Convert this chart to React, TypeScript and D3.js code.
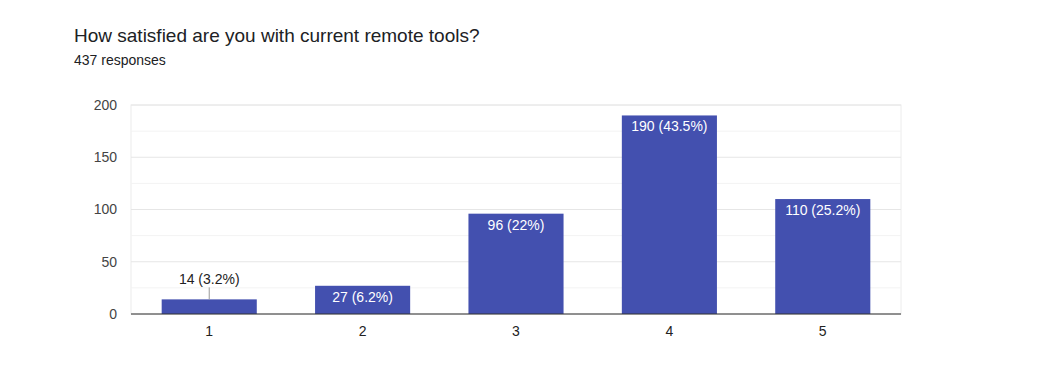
import React from 'react';
import * as d3 from 'd3';

// chart data
const categories = ['1', '2', '3', '4', '5'];
const counts = [14, 27, 96, 190, 110];
const percents = ['3.2%', '6.2%', '22%', '43.5%', '25.2%'];
const yTicks = [0, 50, 100, 150, 200];
const minorTicks = [25, 75, 125, 175];

const W = 1042;
const H = 386;
const margin = { top: 105, right: 141, bottom: 72, left: 131 };
const barColor = '#4350af';
const font = 'Arial, "Liberation Sans", sans-serif';

const App: React.FC = () => {
  const innerW = W - margin.left - margin.right;
  const innerH = H - margin.top - margin.bottom;

  const x = d3.scaleBand<string>().domain(categories).range([0, innerW]).paddingInner(0.38).paddingOuter(0.2);
  const y = d3.scaleLinear().domain([0, 200]).range([innerH, 0]);

  return (
    <svg width={W} height={H} style={{ position: 'absolute', left: 0, top: 0, background: '#fff' }}>
      <text x={74} y={42} fontFamily={font} fontSize={19} fill="#202124">
        How satisfied are you with current remote tools?
      </text>
      <text x={74} y={65} fontFamily={font} fontSize={14} fill="#202124">
        437 responses
      </text>
      <g transform={`translate(${margin.left},${margin.top})`}>
        {/* frame */}
        <rect x={0} y={0} width={innerW} height={innerH} fill="none" stroke="#ececec" />
        {minorTicks.map((t) => (
          <line key={'m' + t} x1={0} x2={innerW} y1={y(t)} y2={y(t)} stroke="#f3f3f3" />
        ))}
        {yTicks.map((t) => (
          <g key={t}>
            <line x1={0} x2={innerW} y1={y(t)} y2={y(t)} stroke="#e6e6e6" />
            <text x={-14} y={y(t)} dy="0.35em" textAnchor="end" fontFamily={font} fontSize={14} fill="#444">
              {t}
            </text>
          </g>
        ))}
        {categories.map((c, i) => {
          const bx = x(c) as number;
          const by = y(counts[i]);
          const bh = innerH - by;
          const label = `${counts[i]} (${percents[i]})`;
          const cx = bx + x.bandwidth() / 2;
          const inside = bh > 22;
          return (
            <g key={c}>
              <rect x={bx} y={by} width={x.bandwidth()} height={bh} fill={barColor} />
              {inside ? (
                <text x={cx} y={by + 16} textAnchor="middle" fontFamily={font} fontSize={14} fill="#fff">
                  {label}
                </text>
              ) : (
                <g>
                  <line x1={cx} x2={cx} y1={by - 12} y2={by} stroke="#999" />
                  <text x={cx} y={by - 15} textAnchor="middle" fontFamily={font} fontSize={14} fill="#222">
                    {label}
                  </text>
                </g>
              )}
              <text x={cx} y={innerH + 22} textAnchor="middle" fontFamily={font} fontSize={14} fill="#222">
                {c}
              </text>
            </g>
          );
        })}
        <line x1={0} x2={innerW} y1={innerH} y2={innerH} stroke="#333" />
      </g>
    </svg>
  );
};

export default App;
